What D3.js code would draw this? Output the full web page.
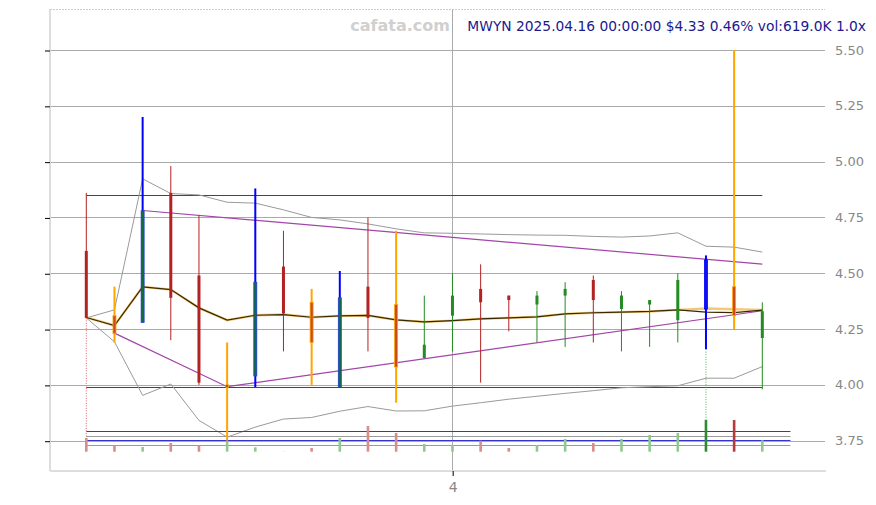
<!DOCTYPE html>
<html><head><meta charset="utf-8">
<script src="https://cdn.jsdelivr.net/npm/d3@7"></script>
<style>html,body{margin:0;padding:0;background:#fff;}svg{display:block;font-family:"DejaVu Sans",sans-serif;}</style>
</head><body>
<svg id="c" width="876" height="505"></svg>
<script>
// ---- data ----
const dates = ["2025-03-13","2025-03-14","2025-03-17","2025-03-18","2025-03-19","2025-03-20","2025-03-21","2025-03-24","2025-03-25","2025-03-26","2025-03-27","2025-03-28","2025-03-31","2025-04-01","2025-04-02","2025-04-03","2025-04-04","2025-04-07","2025-04-08","2025-04-09","2025-04-10","2025-04-11","2025-04-14","2025-04-15","2025-04-16"];
const opens  = [4.60,4.31,4.28,4.86,4.49,3.99,4.04,4.53,4.37,3.99,4.44,4.36,4.12,4.31,4.43,4.40,4.36,4.40,4.47,4.34,4.36,4.29,4.34,4.44,4.21];
const highs  = [4.86,4.44,5.20,4.98,4.76,4.19,4.88,4.69,4.43,4.51,4.75,4.69,4.40,4.50,4.54,4.40,4.42,4.46,4.49,4.42,4.38,4.50,4.58,5.50,4.37];
const lows   = [4.30,4.19,4.28,4.20,4.00,3.75,3.99,4.15,4.00,3.99,4.15,3.92,4.12,4.15,4.01,4.24,4.19,4.17,4.19,4.15,4.17,4.19,4.16,4.25,3.98];
const closes = [4.30,4.23,4.78,4.39,4.01,4.00,4.46,4.32,4.19,4.39,4.30,4.08,4.18,4.40,4.37,4.38,4.40,4.43,4.38,4.40,4.38,4.47,4.56,4.31,4.33];
const volumes = [744,350,255,472,350,543,239,10,200,744,1395,1015,418,350,597,200,364,690,472,690,907,1015,1721,1721,619]; // thousands
const signals = ["","o","b","","","o","b","","o","b","","o","","","","","","","","","","","B","o",""];
const bandUpper = [4.300,4.336,4.923,4.857,4.851,4.818,4.814,4.784,4.750,4.739,4.721,4.699,4.681,4.679,4.676,4.673,4.671,4.670,4.665,4.662,4.667,4.681,4.621,4.617,4.595];
const bandMid   = [4.302,4.266,4.439,4.427,4.345,4.290,4.312,4.315,4.303,4.309,4.311,4.291,4.282,4.288,4.296,4.300,4.305,4.318,4.323,4.326,4.329,4.336,4.326,4.324,4.335];
const maGold    = [4.302,4.266,4.439,4.427,4.345,4.290,4.312,4.315,4.303,4.309,4.311,4.291,4.282,4.288,4.296,4.300,4.305,4.318,4.323,4.326,4.329,4.336,4.342,4.339,4.336];
const bandLower = [4.300,4.193,3.953,4.004,3.841,3.766,3.811,3.847,3.854,3.882,3.903,3.883,3.884,3.905,3.920,3.936,3.949,3.962,3.974,3.987,3.992,3.996,4.030,4.030,4.082];
const trendUpper = [[2,4.781],[24,4.541]];
const trendLower = [[1,4.232],[5,3.992],[24,4.332]];
const priceLevels = [4.851,3.99];
const volLevels = [1124,852,635,364];
const priceTicks = [3.75,4.00,4.25,4.50,4.75,5.00,5.25,5.50];
const title = "MWYN 2025.04.16 00:00:00 $4.33 0.46% vol:619.0K 1.0x";
const watermark = "cafata.com";

// ---- layout ----
const svg = d3.select("#c");
const L = 50, R = 825, T = 9, B = 471;
const idx = d3.range(dates.length);
const x = d3.scaleLinear().domain([0, dates.length - 1]).range([86.3, 762.3]);
const y = d3.scaleLinear().domain([3.75, 5.50]).range([440.7, 50]);
const yv = d3.scaleLinear().domain([0, 1750]).range([451.7, 419.5]);
const step = x(1) - x(0);
const crisp = v => Math.round(v) + 0.5;

// grid lines
svg.append("g").selectAll("line").data(priceTicks).join("line")
  .attr("x1", L).attr("x2", R).attr("y1", d => crisp(y(d))).attr("y2", d => crisp(y(d)))
  .attr("stroke", "#aaa").attr("stroke-width", 1);
// month tick
const parse = d3.timeParse("%Y-%m-%d");
const monthStarts = idx.filter(i => i > 0 && parse(dates[i]).getMonth() !== parse(dates[i-1]).getMonth());
svg.append("g").selectAll("line").data(monthStarts).join("line")
  .attr("x1", d => crisp(x(d))).attr("x2", d => crisp(x(d))).attr("y1", T).attr("y2", B)
  .attr("stroke", "#aaa").attr("stroke-width", 1);

// frame
svg.append("line").attr("x1", L).attr("x2", R).attr("y1", T + 0.5).attr("y2", T + 0.5)
  .attr("stroke", "#ccc").attr("stroke-dasharray", "2,1");
svg.append("line").attr("x1", L).attr("x2", L).attr("y1", T).attr("y2", B)
  .attr("stroke", "#ddd").attr("stroke-width", 2);
svg.append("line").attr("x1", L).attr("x2", R + 1).attr("y1", B).attr("y2", B)
  .attr("stroke", "#ddd").attr("stroke-width", 2);

// left axis (ticks only)
const la = svg.append("g").attr("transform", `translate(${L},0.5)`)
  .call(d3.axisLeft(y).tickValues(priceTicks).tickSize(5).tickFormat(""));
la.select(".domain").remove();
la.selectAll("line").attr("stroke", "#000");
// right labels
svg.append("g").selectAll("text").data(priceTicks).join("text")
  .attr("x", 835).attr("y", d => y(d)).attr("dy", "0.35em")
  .attr("font-size", 13).attr("fill", "#888").text(d => d.toFixed(2));
// bottom axis
const ba = svg.append("g").attr("transform", `translate(0.2,${B})`)
  .call(d3.axisBottom(x).tickValues(monthStarts).tickSize(5)
    .tickFormat(i => String(parse(dates[i]).getMonth() + 1)));
ba.select(".domain").remove();
ba.selectAll("line").attr("stroke", "#000");
ba.selectAll("text").attr("font-size", 14).attr("fill", "#888").attr("dy", "0.9em")
  .attr("font-family", "DejaVu Sans");

// horizontal price levels
svg.append("g").selectAll("line").data(priceLevels).join("line")
  .attr("x1", x(0)).attr("x2", x(dates.length - 1)).attr("y1", d => crisp(y(d))).attr("y2", d => crisp(y(d)))
  .attr("stroke", "#3434d0").attr("stroke-width", 1);

// bands
const line = d3.line().x((d, i) => x(i)).y(d => y(d));
svg.append("path").attr("d", line(bandUpper)).attr("fill", "none").attr("stroke", "#9a9a9a").attr("stroke-width", 1);
svg.append("path").attr("d", line(bandLower)).attr("fill", "none").attr("stroke", "#9a9a9a").attr("stroke-width", 1);
// trend lines
const tl = d3.line().x(d => x(d[0])).y(d => y(d[1]));
svg.append("path").attr("d", tl(trendUpper)).attr("fill", "none").attr("stroke", "#a244a8").attr("stroke-width", 1.2);
svg.append("path").attr("d", tl(trendLower)).attr("fill", "none").attr("stroke", "#a244a8").attr("stroke-width", 1.2);
// moving averages
svg.append("path").attr("d", line(maGold)).attr("fill", "none").attr("stroke", "#f0c060").attr("stroke-width", 2.4).attr("opacity", 0.85);
svg.append("path").attr("d", line(bandMid)).attr("fill", "none").attr("stroke", "#3a2800").attr("stroke-width", 1.2);

// volume reference levels
svg.append("g").selectAll("line").data(volLevels).join("line")
  .attr("x1", x(0)).attr("x2", x(dates.length - 1) + step)
  .attr("y1", d => crisp(yv(d))).attr("y2", d => crisp(yv(d)))
  .attr("stroke", (d, i) => i % 2 === 0 ? "#3434d0" : "#9a9a9a").attr("stroke-width", 1);

// volume bars
const vmax = d3.max(volumes);
svg.append("g").selectAll("rect").data(idx).join("rect")
  .attr("x", i => x(i) - 1.3).attr("width", 2.6)
  .attr("y", i => yv(volumes[i])).attr("height", i => yv(0) - yv(volumes[i]))
  .attr("fill", i => {
    const up = closes[i] >= opens[i];
    if (volumes[i] === vmax) return up ? "#2e8b2e" : "#b83a3a";
    return up ? "#8fc98f" : "#d98c8c";
  });

// dotted connectors
const conn = [0, 22];
svg.append("g").selectAll("line").data(conn).join("line")
  .attr("x1", i => x(i)).attr("x2", i => x(i))
  .attr("y1", i => y(lows[i])).attr("y2", i => yv(volumes[i]))
  .attr("stroke", i => closes[i] >= opens[i] ? "#4caf50" : "#e06060")
  .attr("stroke-width", 1).attr("stroke-dasharray", "1,1.5");

// candles
const upC = "#228b22", dnC = "#b22222";
const g = svg.append("g");
idx.forEach(i => {
  const up = closes[i] >= opens[i];
  const s = signals[i];
  let wickC = up ? upC : dnC, wickW = 1, fill = wickC, stroke = "none";
  if (s === "o") { wickC = "#ffa500"; wickW = 2; fill = up ? "#6b4a12" : "#c84a1e"; stroke = "#ffa500"; }
  if (s === "b") { wickC = "#0000ff"; wickW = 2; fill = "#136b3a"; stroke = "#2040e0"; }
  if (s === "B") { wickC = "#0000ff"; wickW = 2; fill = "#1010ee"; stroke = "#0000ff"; }
  g.append("line").attr("x1", x(i)).attr("x2", x(i)).attr("y1", y(highs[i])).attr("y2", y(lows[i]))
    .attr("stroke", wickC).attr("stroke-width", wickW);
  const top = y(Math.max(opens[i], closes[i])), bot = y(Math.min(opens[i], closes[i]));
  g.append("rect").attr("x", x(i) - 1.5).attr("width", 3)
    .attr("y", top).attr("height", Math.max(1.5, bot - top))
    .attr("fill", fill).attr("stroke", stroke).attr("stroke-width", stroke === "none" ? 0 : 0.8);
});

// texts
svg.append("text").attr("x", 450).attr("y", 31).attr("text-anchor", "end")
  .attr("font-size", 16).attr("font-weight", "bold").attr("fill", "#d0d0d0").text(watermark);
svg.append("text").attr("x", 866).attr("y", 31).attr("text-anchor", "end")
  .attr("font-size", 13.8).attr("fill", "#1a1a8e").text(title);
</script>
</body></html>
